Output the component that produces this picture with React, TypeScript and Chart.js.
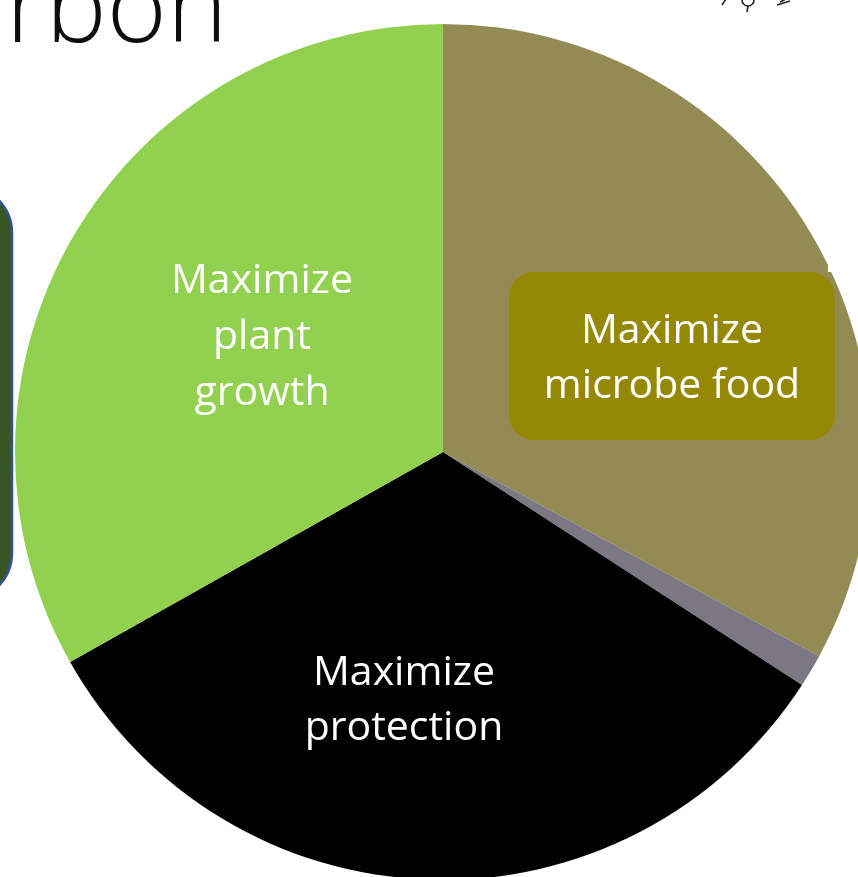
import { useEffect, useRef } from "react";
import { Chart, registerables } from "chart.js";

Chart.register(...registerables);

// ---- data ----
const categories = ["Maximize microbe food", "Unlabelled", "Maximize protection", "Maximize plant growth"];
const sliceValues = [118.5, 4.5, 117.6, 119.4];
const sliceColors = ["#948A54", "#7B7783", "#000000", "#92D050"];
const labelLines = [["Maximize", "microbe food"], [], ["Maximize", "protection"], ["Maximize", "plant", "growth"]];
const titleText = "rbon";

const LABEL_FONT = "41px 'Open Sans'";

const decor = {
  id: "decor",
  afterDraw(chart: any) {
    const ctx: CanvasRenderingContext2D = chart.ctx;
    ctx.save();

    // white patch at the right edge
    ctx.fillStyle = "#ffffff";
    ctx.fillRect(828, 190, 40, 82);

    // left rounded box (partially visible)
    ctx.beginPath();
    ctx.roundRect(-120, 186, 132, 414, 47);
    ctx.fillStyle = "#375623";
    ctx.fill();
    ctx.lineWidth = 2.5;
    ctx.strokeStyle = "#2F5597";
    ctx.stroke();

    // title fragment
    let size = 93;
    ctx.font = `350 ${size}px 'Open Sans'`;
    let m = ctx.measureText(titleText);
    const inkW = m.actualBoundingBoxLeft + m.actualBoundingBoxRight;
    size = size * 205 / inkW;
    ctx.font = `350 ${size}px 'Open Sans'`;
    m = ctx.measureText(titleText);
    ctx.fillStyle = "#0d0d0d";
    ctx.textAlign = "left";
    ctx.textBaseline = "alphabetic";
    ctx.fillText(titleText, 15 + m.actualBoundingBoxLeft, 42);

    // small icon top-right
    ctx.strokeStyle = "#222";
    ctx.lineWidth = 1.6;
    ctx.beginPath();
    ctx.arc(748, 0, 6, 0, Math.PI * 2);
    ctx.stroke();
    ctx.beginPath();
    ctx.moveTo(748, 6); ctx.lineTo(747, 12);
    ctx.moveTo(722, 5); ctx.lineTo(726, -1);
    ctx.moveTo(777, 5); ctx.lineTo(790, 1);
    ctx.moveTo(780, 2); ctx.lineTo(786, -1);
    ctx.stroke();

    // label box for microbe food
    ctx.beginPath();
    ctx.roundRect(509, 272, 326, 168, 25);
    ctx.fillStyle = "#948804";
    ctx.fill();

    // labels
    ctx.fillStyle = "#ffffff";
    ctx.font = LABEL_FONT;
    ctx.textAlign = "center";
    const pos = [
      { x: 672, y: 343, step: 55 },
      null,
      { x: 404, y: 685, step: 55 },
      { x: 262, y: 293, step: 56 },
    ];
    labelLines.forEach((lines, i) => {
      const p = pos[i];
      if (!p) return;
      lines.forEach((t, j) => ctx.fillText(t, p.x, p.y + j * p.step));
    });

    ctx.restore();
  },
};

export default function App() {
  const ref = useRef<HTMLCanvasElement>(null);
  useEffect(() => {
    const chart = new Chart(ref.current!, {
      type: "pie",
      data: {
        labels: categories,
        datasets: [{ data: sliceValues, backgroundColor: sliceColors, borderWidth: 0 }],
      },
      options: {
        responsive: false,
        animation: false,
        events: [],
        layout: { padding: 15 },
        plugins: { legend: { display: false }, tooltip: { enabled: false } },
      },
      plugins: [decor],
    });
    return () => chart.destroy();
  }, []);
  return (
    <div style={{ position: "fixed", left: 0, top: 0, width: 858, height: 877, overflow: "hidden", background: "#fff" }}>
      <canvas ref={ref} width={886} height={904} style={{ display: "block" }} />
    </div>
  );
}
